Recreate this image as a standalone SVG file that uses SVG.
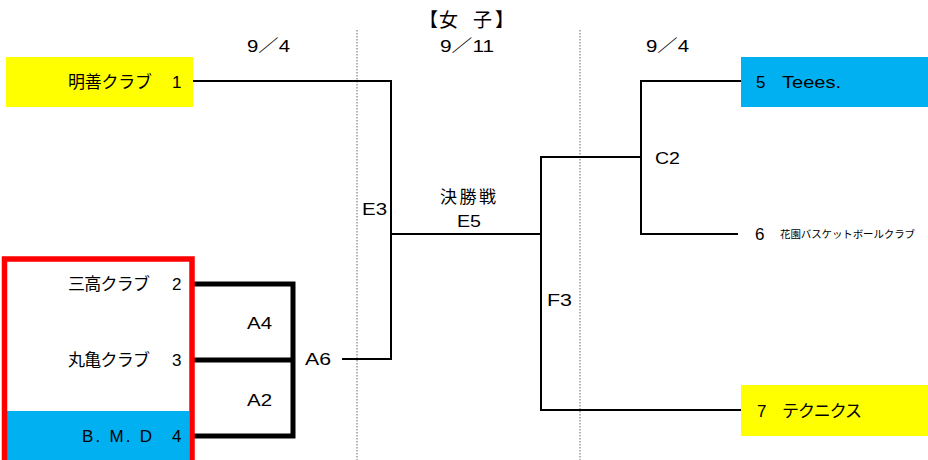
<svg xmlns="http://www.w3.org/2000/svg" width="928" height="460" viewBox="0 0 928 460">
<style>
text{font-family:"Liberation Sans","Noto Sans CJK JP",sans-serif;font-size:17px;fill:#000}
.thin{stroke:#000;stroke-width:2;fill:none}
.thick{stroke:#000;stroke-width:5;fill:none}
.dash{stroke:#666;stroke-width:1;stroke-dasharray:1.5 1.5;fill:none}
</style>
<rect width="928" height="460" fill="#fff"/>
<g id="guides">
<line class="dash" x1="357" y1="30" x2="357" y2="460"/>
<line class="dash" x1="580" y1="30" x2="580" y2="460"/>
</g>
<g id="headers">
<text y="27" style="font-size:19px"><tspan x="419">【</tspan><tspan x="439">女</tspan><tspan x="473">子</tspan><tspan x="495">】</tspan></text>
<text x="247" y="52" textLength="43" lengthAdjust="spacingAndGlyphs">9／4</text>
<text x="440" y="52" textLength="54" lengthAdjust="spacingAndGlyphs">9／11</text>
<text x="646" y="52" textLength="43" lengthAdjust="spacingAndGlyphs">9／4</text>
</g>
<g id="connectors">
<polyline class="thin" points="193,81 391,81 391,359 342,359"/>
<line class="thin" x1="391" y1="234" x2="541" y2="234"/>
<polyline class="thin" points="641,157 541,157 541,410 741,410"/>
<polyline class="thin" points="741,81 641,81 641,234 738,234"/>
<polyline class="thick" points="190,284 293,284 293,436 190,436"/>
<line class="thick" x1="190" y1="360" x2="293" y2="360"/>
</g>
<g id="labels">
<text x="247" y="329" textLength="25" lengthAdjust="spacingAndGlyphs">A4</text>
<text x="247" y="406" textLength="25" lengthAdjust="spacingAndGlyphs">A2</text>
<text x="305" y="365" textLength="26" lengthAdjust="spacingAndGlyphs">A6</text>
<text x="362" y="215" textLength="25" lengthAdjust="spacingAndGlyphs">E3</text>
<text x="440" y="203" textLength="56" lengthAdjust="spacing">決勝戦</text>
<text x="457" y="227" textLength="24" lengthAdjust="spacingAndGlyphs">E5</text>
<text x="655" y="164" textLength="25" lengthAdjust="spacingAndGlyphs">C2</text>
<text x="547" y="306" textLength="25" lengthAdjust="spacingAndGlyphs">F3</text>
</g>
<g id="team1">
<rect x="6" y="57" width="187" height="50" fill="#ffff00"/>
<text x="68" y="88" textLength="84" lengthAdjust="spacing">明善クラブ</text>
<text x="172" y="88">1</text>
</g>
<g id="group-left">
<rect x="7" y="411" width="182" height="52" fill="#00b0f0"/>
<rect x="4.5" y="259" width="187.5" height="210" fill="none" stroke="#ff0000" stroke-width="5.5"/>
</g>
<g id="team2">
<text x="68" y="290" textLength="82" lengthAdjust="spacing">三高クラブ</text>
<text x="172" y="290">2</text>
</g>
<g id="team3">
<text x="68" y="366" textLength="82" lengthAdjust="spacing">丸亀クラブ</text>
<text x="172" y="366">3</text>
</g>
<g id="team4">
<text x="82" y="442" textLength="70" lengthAdjust="spacing">B. M. D</text>
<text x="172" y="442">4</text>
</g>
<g id="team5">
<rect x="741" y="57" width="187" height="50" fill="#00b0f0"/>
<text x="756" y="88">5</text>
<text x="782" y="88" textLength="59" lengthAdjust="spacingAndGlyphs">Teees.</text>
</g>
<g id="team6">
<text x="755" y="240">6</text>
<text x="780" y="238" style="font-size:10.5px" textLength="135" lengthAdjust="spacing">花園バスケットボールクラブ</text>
</g>
<g id="team7">
<rect x="741" y="385" width="187" height="51" fill="#ffff00"/>
<text x="757" y="417">7</text>
<text x="782" y="417" textLength="80" lengthAdjust="spacing">テクニクス</text>
</g>
</svg>
